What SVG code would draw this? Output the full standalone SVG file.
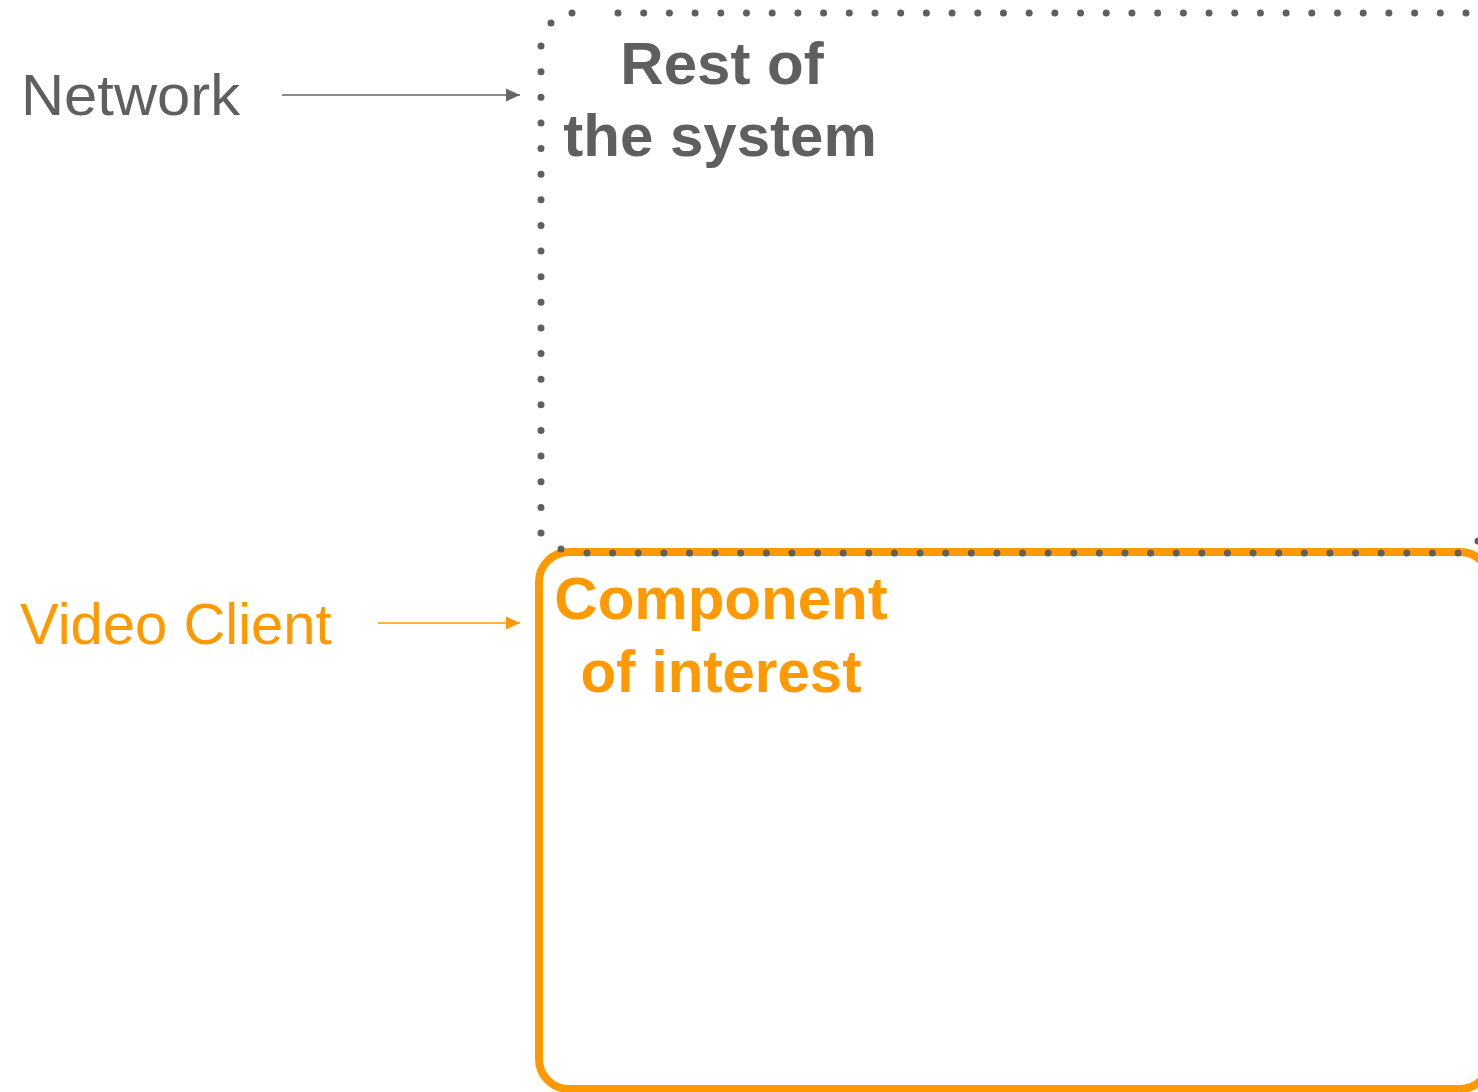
<svg xmlns="http://www.w3.org/2000/svg" width="1478" height="1092" viewBox="0 0 1478 1092">
  <defs>
    <marker id="head-gray" viewBox="0 0 14 14" refX="14" refY="7" markerWidth="14" markerHeight="14" markerUnits="userSpaceOnUse" orient="auto">
      <path d="M0,0.5 L14,7 L0,13.5 Z" fill="#666666"/>
    </marker>
    <marker id="head-orange" viewBox="0 0 14 14" refX="14" refY="7" markerWidth="14" markerHeight="14" markerUnits="userSpaceOnUse" orient="auto">
      <path d="M0,0.5 L14,7 L0,13.5 Z" fill="#FF9900"/>
    </marker>
    <style>
      .label { font-family: "Liberation Sans", Arial, sans-serif; font-size: 58px; }
      .title { font-family: "Liberation Sans", Arial, sans-serif; font-size: 60px; font-weight: bold; text-anchor: middle; }
      .gray { fill: #5f5f5f; }
      .orange { fill: #FF9900; }
      .dots { fill: none; stroke: #5f5f5f; stroke-width: 7; stroke-linecap: round; }
      .dot { fill: #5f5f5f; }
    </style>
  </defs>

  <rect width="1478" height="1092" fill="#ffffff"/>

  <!-- Video client: solid orange box -->
  <g id="component-of-interest">
    <rect x="539" y="552" width="951" height="537" rx="30" ry="30" fill="none" stroke="#FF9900" stroke-width="8"/>
    <text class="title orange" x="721" y="619">Component</text>
    <text class="title orange" x="721" y="692" textLength="281" lengthAdjust="spacingAndGlyphs">of interest</text>
  </g>

  <!-- Network: dotted box -->
  <g id="rest-of-system">
    <path class="dots" d="M618,13 H1467" stroke-dasharray="0 25.697"/>
    <path class="dots" d="M541,46 V534" stroke-dasharray="0 25.632"/>
    <path class="dots" d="M587,553 H1459" stroke-dasharray="0 25.618"/>
    <circle class="dot" cx="572" cy="13" r="3.5"/>
    <circle class="dot" cx="551" cy="23" r="3.5"/>
    <circle class="dot" cx="561" cy="549" r="3.5"/>
    <circle class="dot" cx="1478" cy="541" r="3.5"/>
    <text class="title gray" x="722" y="84">Rest of</text>
    <text class="title gray" x="720" y="156">the system</text>
  </g>

  <g id="network-label">
    <text class="label gray" x="21" y="115" textLength="219" lengthAdjust="spacingAndGlyphs">Network</text>
  </g>

  <g id="video-client-label">
    <text class="label orange" x="20" y="644">Video Client</text>
  </g>

  <g id="connectors">
    <line x1="282" y1="95" x2="520" y2="95" stroke="#666666" stroke-width="1.5" marker-end="url(#head-gray)"/>
    <line x1="378" y1="623" x2="520" y2="623" stroke="#FF9900" stroke-width="1.5" marker-end="url(#head-orange)"/>
  </g>
</svg>
